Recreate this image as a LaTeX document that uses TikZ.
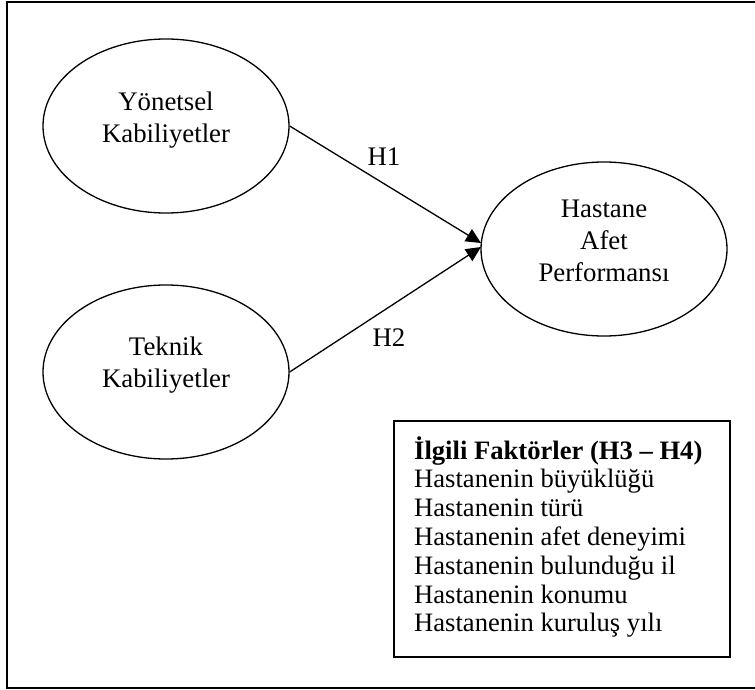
\documentclass[tikz,border=0pt]{standalone}
\usepackage{fontspec}
\setmainfont{Liberation Serif}
\usetikzlibrary{arrows.meta,shapes.geometric}
\begin{document}
\begin{tikzpicture}[x=1pt,y=-1pt,
  construct/.style={draw,line width=1.3pt,ellipse,minimum width=246pt,minimum height=174pt,inner sep=0pt},
  lbl/.style={font=\fontsize{26.8}{32}\selectfont,align=center},
  conn/.style={line width=1.3pt,-{Triangle[length=15pt,width=14pt]}},
  hyp/.style={font=\fontsize{26.8}{29}\selectfont}]
\useasboundingbox (0,0) rectangle (755,690);
\draw[line width=2pt] (770,2) -- (7,2) -- (7,688) -- (770,688);
\node[construct] (yk) at (166,126) {};
\node[lbl] at (166,120) {Yönetsel\\Kabiliyetler};
\node[construct] (tk) at (166,372) {};
\node[lbl] at (166,365) {Teknik\\Kabiliyetler};
\node[construct] (hp) at (604,249) {};
\node[lbl] at (604,241) {Hastane\\Afet\\Performansı};
\coordinate (e1) at (481,243);
\coordinate (e2) at (481,247);
\draw[conn] (yk.east) -- (e1);
\draw[conn] (tk.east) -- (e2);
\node[hyp] (h1) at (384,157) {H1};
\node[hyp] (h2) at (389,338) {H2};
\node[draw,line width=1.5pt,minimum width=336pt,minimum height=236pt,anchor=north west,inner sep=0pt] (box) at (393,420) {};
\node[anchor=north west,align=left,font=\fontsize{26.6}{28.8}\selectfont,inner sep=0pt] (ftxt) at (414,436)
 {\textbf{İlgili Faktörler (H3 – H4)}\\
  Hastanenin büyüklüğü\\
  Hastanenin türü\\
  Hastanenin afet deneyimi\\
  Hastanenin bulunduğu il\\
  Hastanenin konumu\\
  Hastanenin kuruluş yılı};
\end{tikzpicture}
\end{document}
